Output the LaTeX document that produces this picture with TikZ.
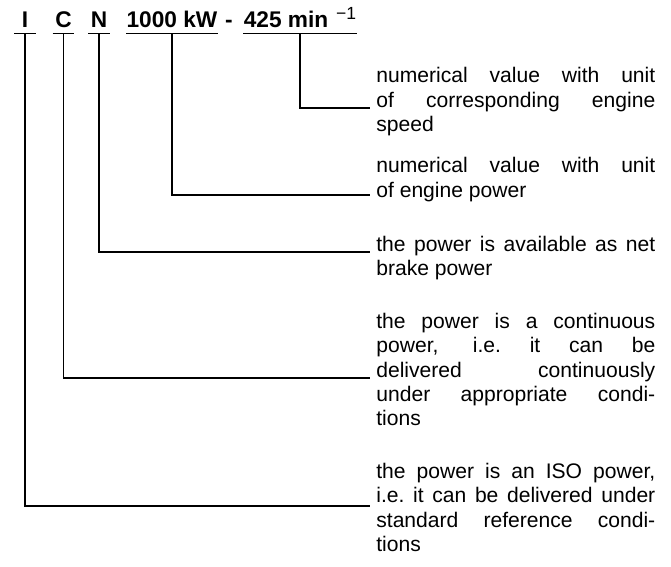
\documentclass[tikz,border=0pt]{standalone}
\usepackage{fontspec}
\setmainfont{Liberation Sans}
\usetikzlibrary{positioning}

\begin{document}
\begin{tikzpicture}[x=0.02cm, y=-0.02cm,
  code/.style={anchor=base, font=\fontsize{12.9}{15}\selectfont\bfseries,
               inner xsep=0pt, inner ysep=0.12cm, text depth=0pt},
  letter/.style={code, minimum width=0.42cm},
  desc/.style={anchor=base west, text width=5.58cm, align=justify,
               inner sep=0pt, font=\fontsize{12}{13.94}\selectfont},
  uline/.style={line width=0.8pt},
  lead/.style={line width=0.7pt},
  ]
  \useasboundingbox (0,0) rectangle (671,566);

  \node[letter] (I) at (25,27) {I};
  \node[letter] (C) at (63.5,27) {C};
  \node[letter] (N) at (99,27) {N};
  \node[code] (pow) at (172,27) {1000 kW};
  \node[code] (dash) at (229,27) {-};
  \node[code] (spd) at (300,27) {425 min\hspace{4.5pt}\raisebox{0.6ex}{\fontsize{10}{12}\selectfont\mdseries −1}};
  \foreach \n in {I,C,N,pow,spd}
    \draw[uline] (\n.south west) -- (\n.south east);

  \node[desc] (t1) at (376,82.5) {numerical value with unit\linebreak of corresponding engine\linebreak speed};
  \node[desc] (t2) at (376,172.5) {numerical value with unit\linebreak of engine power};
  \node[desc] (t3) at (376,251) {the power is available as net\linebreak brake power};
  \node[desc] (t4) at (376,328) {the power is a continuous\linebreak power, i.e.\ it can be\linebreak delivered continuously\linebreak under appropriate condi-\linebreak tions};
  \node[desc] (t5) at (376,478) {the power is an ISO power,\linebreak i.e.\ it can be delivered under\linebreak standard reference condi-\linebreak tions};

  \coordinate (e1) at (370,108);
  \coordinate (e2) at (370,195);
  \coordinate (e3) at (370,252);
  \coordinate (e4) at (370,378);
  \coordinate (e5) at (370,506);

  \draw[lead] (spd.south) |- (e1);
  \draw[lead] (pow.south) |- (e2);
  \draw[lead] (N.south) |- (e3);
  \draw[lead] (C.south) |- (e4);
  \draw[lead] (I.south) |- (e5);
\end{tikzpicture}
\end{document}
